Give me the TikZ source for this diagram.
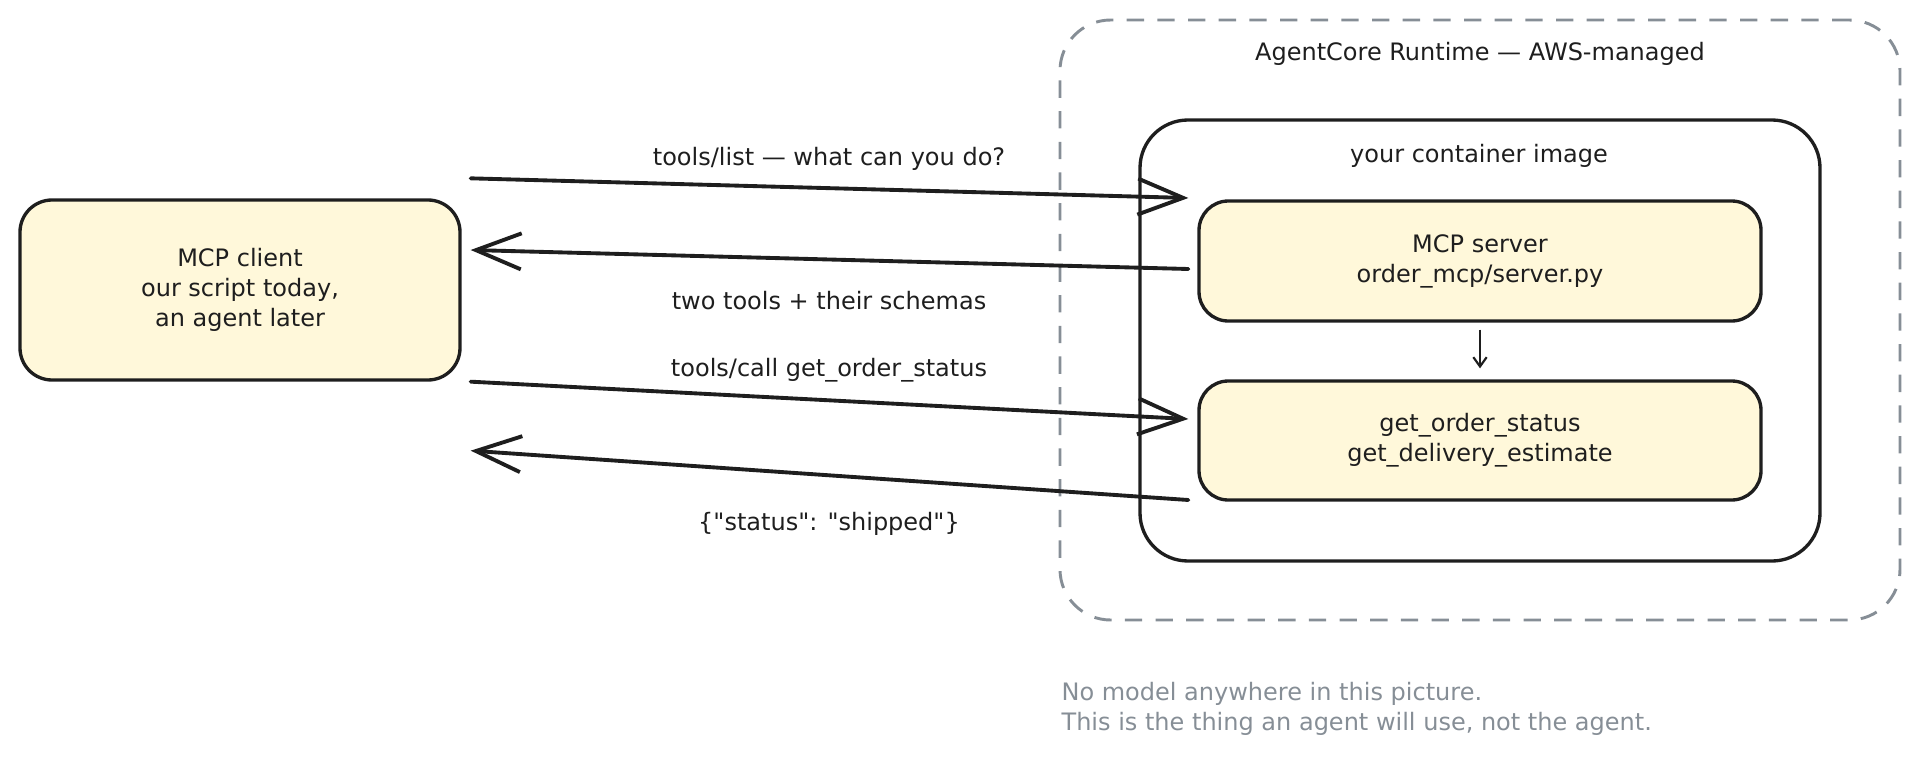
\documentclass[tikz,border=0pt]{standalone}
\usepackage{fontspec}
\setmainfont{DejaVu Sans}[Ligatures=TeXOff]
\usetikzlibrary{arrows.meta,calc}
\definecolor{ink}{HTML}{1E1E1E}
\definecolor{fillY}{HTML}{FFF8DA}
\definecolor{grayline}{HTML}{868E96}
\begin{document}
\begin{tikzpicture}[x=0.75pt,y=-0.75pt,
  every node/.style={font=\fontsize{18pt}{22.5pt}\selectfont, text=ink},
  ybox/.style={draw=ink, line width=2.5pt, fill=fillY, rounded corners=22pt, align=center, inner sep=0pt},
  wbox/.style={draw=ink, line width=2.5pt, rounded corners=36pt, inner sep=0pt},
  outerbox/.style={draw=grayline, line width=2.2pt, dash pattern=on 13pt off 10pt, rounded corners=38pt, inner sep=0pt},
  bigarr/.style={draw=ink, line width=2.9pt, line cap=round, -{Straight Barb[length=34pt,width=27pt]}},
  smallarr/.style={draw=ink, line width=1.6pt, -{Straight Barb[length=7pt,width=10pt]}},
  lbl/.style={inner sep=1pt}
]
\useasboundingbox (0,0) rectangle (1920,760);
% containers
\node[outerbox, minimum width=630pt, minimum height=450pt] (outer) at (1480,320) {};
\node[lbl] (outertitle) at (1480,54) {AgentCore Runtime — AWS-managed};
\node[wbox, minimum width=510pt, minimum height=330.75pt] (inner) at (1480,340.5) {};
\node[lbl] (innertitle) at (1479,156) {your container image};
% boxes
\node[ybox, minimum width=330pt, minimum height=135pt, rounded corners=24pt] (client) at (240,290) {MCP client\\our script today,\\an agent later};
\node[ybox, minimum width=421.5pt, minimum height=90pt] (mcp) at (1480,261) {MCP server\\order\_mcp/server.py};
\node[ybox, minimum width=421.5pt, minimum height=89.25pt] (tools) at (1480,440.5) {get\_order\_status\\get\_delivery\_estimate};
% arrows
\draw[bigarr] ($(client.north east)+(9,-20)$) -- ($(mcp.west)+(-9,-63)$);
\draw[bigarr] ($(mcp.west)+(-9,8)$) -- ($(client.east)+(9,-40)$);
\draw[bigarr] ($(client.south east)+(9,0)$) -- ($(tools.west)+(-9,-21.5)$);
\draw[bigarr] ($(tools.west)+(-9,59.5)$) -- ($(client.south east)+(9,69)$);
\draw[smallarr] ($(mcp.south)+(0,7)$) -- ($(tools.north)+(0,-11)$);
% labels
\node[lbl] (l1) at (829,159) {tools/list — what can you do?};
\node[lbl] (l2) at (829,301) {two tools + their schemas};
\node[lbl] (l3) at (829,370) {tools/call get\_order\_status};
\node[lbl] (l4) at (829,524) {\{"status": "shipped"\}};
% note
\node[lbl, anchor=west, align=left, text=grayline] (note) at (1060,709) {No model anywhere in this picture.\\This is the thing an agent will use, not the agent.};
\end{tikzpicture}
\end{document}
